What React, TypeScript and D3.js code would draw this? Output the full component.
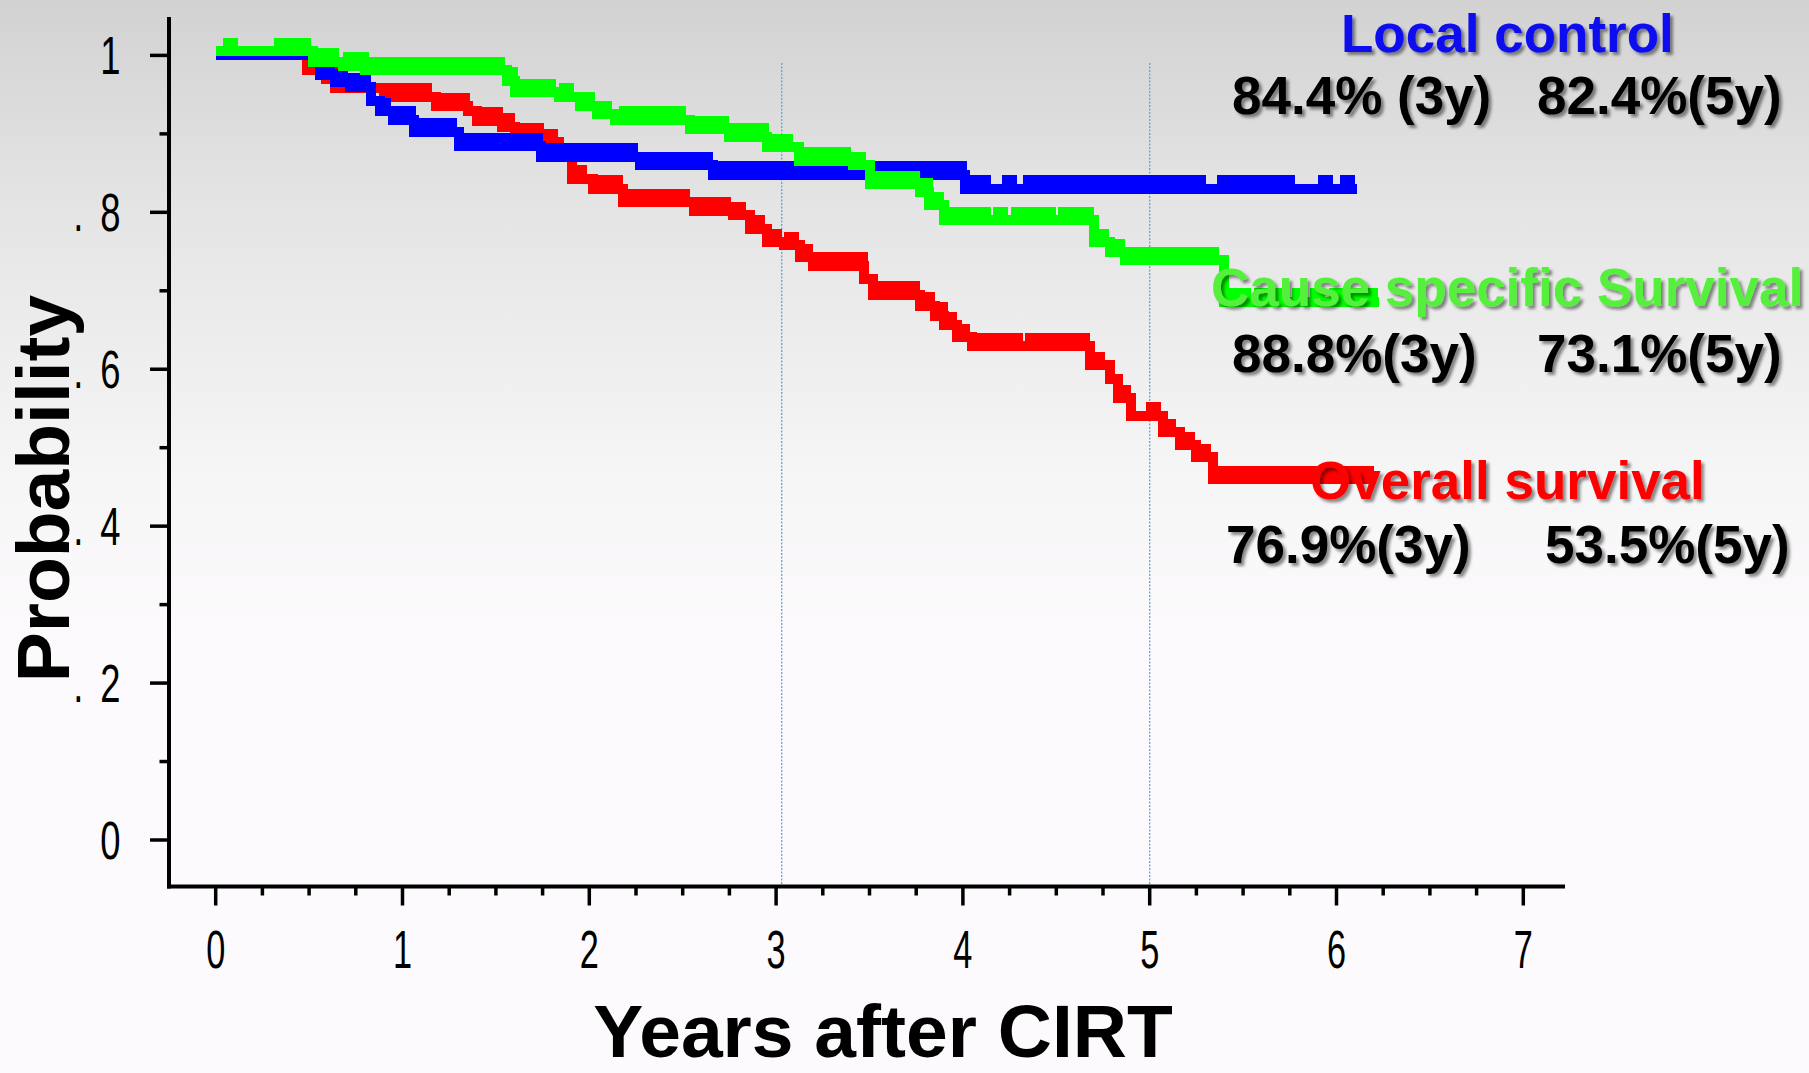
import React from "react";
import * as d3 from "d3";

const W = 1809;
const H = 1073;

// Local control (blue): step times in years and probability after each step
const lcTimes = [0, 0.56, 0.64, 0.72, 0.83, 0.88, 0.95, 1.06, 1.3, 1.74, 2.27, 2.66, 4.01];
const lcSurv = [1.0, 0.975, 0.966, 0.96, 0.942, 0.929, 0.918, 0.903, 0.884, 0.871, 0.86, 0.848, 0.83];
const lcCensor = [
  0.6, 0.67, 0.75, 0.79, 0.9, 0.98, 1.03, 1.1, 1.14, 1.2, 1.25, 1.33, 1.37, 1.44, 1.5, 1.55, 1.6,
  1.65, 1.71, 1.8, 1.88, 1.93, 1.98, 2.04, 2.1, 2.17, 2.22, 2.31, 2.38, 2.45, 2.5, 2.56, 2.62,
  2.7, 2.76, 2.82, 2.88, 2.95, 3.02, 3.09, 3.16, 3.23, 3.3, 3.37, 3.44, 3.51, 3.58, 3.65, 3.72,
  3.79, 3.86, 3.93, 3.98, 4.05, 4.11, 4.25, 4.36, 4.43, 4.5, 4.57, 4.64, 4.71, 4.78, 4.85, 4.92,
  4.99, 5.06, 5.13, 5.2, 5.26, 5.4, 5.47, 5.54, 5.61, 5.68, 5.74, 5.94, 6.06,
];
const lcEnd = 6.11;

// Cause specific survival (green)
const cssTimes = [0, 0.52, 0.68, 0.8, 1.56, 1.6, 1.84, 1.95, 2.04, 2.14, 2.54, 2.75, 2.95, 3.12, 3.41, 3.5, 3.77, 3.82, 3.9, 4.7, 4.79, 4.87, 5.4];
const cssSurv = [1.005, 0.992, 0.987, 0.981, 0.968, 0.953, 0.947, 0.936, 0.925, 0.918, 0.906, 0.896, 0.883, 0.866, 0.86, 0.836, 0.826, 0.809, 0.79, 0.762, 0.749, 0.739, 0.686];
const cssCensor = [
  0.08, 0.35, 0.41, 0.47, 0.56, 0.62, 0.72, 0.78, 0.84, 0.91, 0.98, 1.05, 1.12, 1.18, 1.25,
  1.31, 1.37, 1.42, 1.46, 1.51, 1.58, 1.64, 1.7, 1.78, 1.88, 1.99, 2.08, 2.2, 2.28, 2.35, 2.42,
  2.48, 2.58, 2.66, 2.71, 2.79, 2.86, 2.92, 2.99, 3.05, 3.16, 3.22, 3.3, 3.36, 3.44, 3.55, 3.61,
  3.67, 3.73, 3.8, 3.86, 3.95, 4.03, 4.11, 4.2, 4.3, 4.38, 4.46, 4.55, 4.62, 4.66, 4.74, 4.83,
  4.92, 4.98, 5.02, 5.1, 5.18, 5.26, 5.33, 5.44, 5.5, 5.6, 5.7, 5.8, 5.9, 6.0, 6.1, 6.18,
];
const cssEnd = 6.23;

// Overall survival (red)
const osTimes = [0, 0.49, 0.59, 0.64, 0.9, 1.18, 1.35, 1.4, 1.53, 1.6, 1.76, 1.84, 1.91, 2.02, 2.18, 2.56, 2.77, 2.86, 2.95, 3.04, 3.13, 3.2, 3.47, 3.52, 3.77, 3.85, 3.9, 3.97, 4.05, 4.68, 4.79, 4.83, 4.9, 5.07, 5.16, 5.25, 5.34];
const osSurv = [1.0, 0.982, 0.97, 0.958, 0.947, 0.935, 0.929, 0.917, 0.909, 0.896, 0.889, 0.872, 0.843, 0.83, 0.813, 0.802, 0.796, 0.779, 0.762, 0.758, 0.743, 0.732, 0.715, 0.695, 0.681, 0.668, 0.656, 0.641, 0.629, 0.605, 0.588, 0.563, 0.541, 0.52, 0.503, 0.488, 0.46];
const osCensor = [
  0.52, 0.56, 0.62, 0.93, 1.0, 1.06, 1.12, 1.21, 1.27, 1.32, 1.43, 1.5, 1.56, 1.63, 1.67, 1.72,
  1.79, 1.95, 2.06, 2.1, 2.14, 2.22, 2.28, 2.34, 2.39, 2.44, 2.5, 2.59, 2.66, 2.72, 2.8, 2.9,
  2.99, 3.08, 3.16, 3.24, 3.3, 3.36, 3.41, 3.45, 3.56, 3.62, 3.67, 3.73, 3.79, 3.81, 3.88, 3.93,
  4.0, 4.08, 4.14, 4.21, 4.28, 4.37, 4.44, 4.51, 4.58, 4.64, 4.72, 4.86, 5.02, 5.1, 5.2, 5.29,
  5.38, 5.46, 5.53, 5.6, 5.67, 5.74, 5.81, 5.88, 5.95, 6.02, 6.09, 6.16,
];
const osEnd = 6.2;

const xTicks = [0, 1, 2, 3, 4, 5, 6, 7];
const yTickValues = [0, 0.2, 0.4, 0.6, 0.8, 1];
const yTickLabels = ["0", ".2", ".4", ".6", ".8", "1"];
const refYears = [3.03, 5];

const groupTitles = ["Local control", "Cause specific Survival", "Overall survival"];
const rates3y = ["84.4% (3y)", "88.8%(3y)", "76.9%(3y)"];
const rates5y = ["82.4%(5y)", "73.1%(5y)", "53.5%(5y)"];

const x = d3.scaleLinear().domain([0, 7]).range([215.7, 1523.3]);
const y = d3.scaleLinear().domain([0, 1]).range([840, 55.4]);

const series = [
  { key: "os", times: osTimes, surv: osSurv, censor: osCensor, end: osEnd, color: "#ff0000" },
  { key: "lc", times: lcTimes, surv: lcSurv, censor: lcCensor, end: lcEnd, color: "#0000ff" },
  { key: "css", times: cssTimes, surv: cssSurv, censor: cssCensor, end: cssEnd, color: "#00ff00" },
];

const survAt = (times: number[], surv: number[], t: number) => {
  const i = d3.bisectRight(times, t) - 1;
  return surv[Math.max(0, i)];
};

const stepLine = d3
  .line<[number, number]>()
  .x((d) => x(d[0]))
  .y((d) => y(d[1]))
  .curve(d3.curveStepAfter);

const LINE_W = 10;
const CENSOR_W = 15;
const CENSOR_H = 9;

const sansBold = "'Liberation Sans', Arial, Helvetica, sans-serif";

const App = () => {
  const axisY = 886.5;
  const axisX = 169;
  const minorX = d3.range(0, 7.001, 0.25).filter((v) => Math.abs(v - Math.round(v)) > 0.01);
  const minorY = d3.range(0.1, 1, 0.2);

  return (
    <svg
      width={W}
      height={H}
      style={{ position: "absolute", left: 0, top: 0 }}
      fontFamily={sansBold}
    >
      <defs>
        <linearGradient id="bg" x1="0" y1="0" x2="0" y2="1">
          <stop offset="0" stopColor="#d2d2d2" />
          <stop offset="0.2" stopColor="#e5e5e5" />
          <stop offset="0.45" stopColor="#f7f6f7" />
          <stop offset="0.6" stopColor="#fcfafc" />
          <stop offset="1" stopColor="#fcfafc" />
        </linearGradient>
        <filter id="shadow" x="-5%" y="-20%" width="110%" height="150%">
          <feDropShadow dx="3" dy="3" stdDeviation="1.6" floodColor="#000" floodOpacity="0.45" />
        </filter>
      </defs>
      <rect x={0} y={0} width={W} height={H} fill="url(#bg)" />

      {/* 3y / 5y reference lines */}
      {refYears.map((t) => (
        <line
          key={t}
          x1={x(t)}
          x2={x(t)}
          y1={63}
          y2={axisY}
          stroke="#5aa6dc"
          strokeWidth={1.3}
          strokeDasharray="2,1.5"
        />
      ))}

      {/* curves */}
      {series.map((s) => {
        const pts: [number, number][] = s.times.map((t, i) => [t, s.surv[i]] as [number, number]);
        pts.push([s.end, s.surv[s.surv.length - 1]]);
        return (
          <g key={s.key} shapeRendering="crispEdges">
            <path d={stepLine(pts) || ""} fill="none" stroke={s.color} strokeWidth={LINE_W} />
            {s.censor.map((t, i) => (
              <rect
                key={i}
                x={x(t) - CENSOR_W / 2}
                y={y(survAt(s.times, s.surv, t)) - LINE_W / 2 - CENSOR_H + 0.5}
                width={CENSOR_W}
                height={CENSOR_H}
                fill={s.color}
              />
            ))}
          </g>
        );
      })}

      {/* axes */}
      <g stroke="#000">
        <line x1={axisX} x2={axisX} y1={17} y2={axisY + 2} strokeWidth={4} />
        <line x1={axisX - 2} x2={1565} y1={axisY} y2={axisY} strokeWidth={4} />
        {xTicks.map((t) => (
          <line key={t} x1={x(t)} x2={x(t)} y1={axisY} y2={axisY + 19} strokeWidth={3.5} />
        ))}
        {minorX.map((t) => (
          <line key={t} x1={x(t)} x2={x(t)} y1={axisY} y2={axisY + 9} strokeWidth={3.5} />
        ))}
        {yTickValues.map((v) => (
          <line key={v} x1={axisX - 19} x2={axisX} y1={y(v)} y2={y(v)} strokeWidth={3.5} />
        ))}
        {minorY.map((v) => (
          <line key={v} x1={axisX - 9.5} x2={axisX} y1={y(v)} y2={y(v)} strokeWidth={3.5} />
        ))}
      </g>

      {/* tick labels (thin, condensed) */}
      {xTicks.map((t) => (
        <g key={t} transform={`translate(${x(t)},968) scale(0.66,1.03)`}>
          <text textAnchor="middle" fontSize={52} fontWeight={400} fill="#000">
            {t}
          </text>
        </g>
      ))}
      {yTickLabels.map((lab, i) => (
        <g key={lab} transform={`translate(120.5,${y(yTickValues[i]) + 18.5}) scale(0.7,1.03)`}>
          <text textAnchor="end" fontSize={52} fontWeight={400} fill="#000">
            {lab.startsWith(".") ? (
              <>
                <tspan>.</tspan>
                <tspan dx={24}>{lab.slice(1)}</tspan>
              </>
            ) : (
              lab
            )}
          </text>
        </g>
      ))}

      {/* axis titles */}
      <text x={883} y={1057} textAnchor="middle" fontSize={75} fontWeight={700} fill="#000">
        Years after CIRT
      </text>
      <text
        transform="translate(69,488.5) rotate(-90)"
        textAnchor="middle"
        fontSize={75}
        fontWeight={700}
        fill="#000"
      >
        Probability
      </text>

      {/* group annotations */}
      <g fontSize={53} fontWeight={700} filter="url(#shadow)">
        <text x={1341} y={52} fill="#0a0af0">{groupTitles[0]}</text>
        <text x={1232} y={114} fill="#000">{rates3y[0]}</text>
        <text x={1537} y={114} fill="#000">{rates5y[0]}</text>

        <text x={1211} y={306} fill="#55f03a">{groupTitles[1]}</text>
        <text x={1232} y={372} fill="#000">{rates3y[1]}</text>
        <text x={1537} y={372} fill="#000">{rates5y[1]}</text>

        <text x={1310} y={499} fill="#ff0000">{groupTitles[2]}</text>
        <text x={1226} y={563} fill="#000">{rates3y[2]}</text>
        <text x={1545} y={563} fill="#000">{rates5y[2]}</text>
      </g>
    </svg>
  );
};

export default App;
